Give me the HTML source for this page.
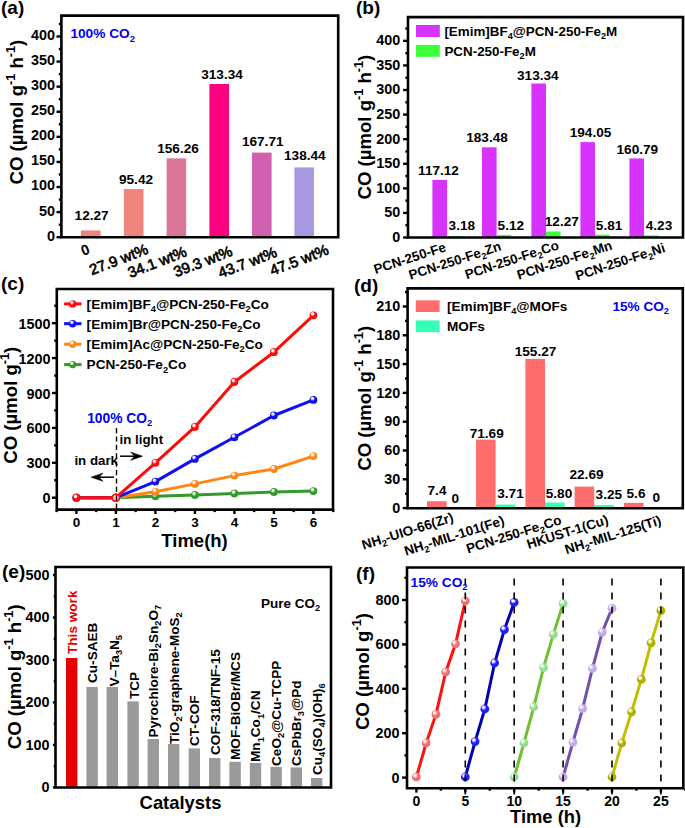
<!DOCTYPE html>
<html><head><meta charset="utf-8"><style>
html,body{margin:0;padding:0;background:#fff;}
svg{display:block;font-family:"Liberation Sans",sans-serif;font-weight:bold;}
</style></head><body>
<svg width="685" height="828" viewBox="0 0 685 828">
<defs><radialGradient id="g0" cx="0.4" cy="0.36" r="0.6" fx="0.38" fy="0.32"><stop offset="0" stop-color="#fff" stop-opacity="0.95"/><stop offset="0.22" stop-color="#fff" stop-opacity="0.75"/><stop offset="0.5" stop-color="#33992B"/><stop offset="1" stop-color="#33992B"/></radialGradient><radialGradient id="g1" cx="0.4" cy="0.36" r="0.6" fx="0.38" fy="0.32"><stop offset="0" stop-color="#fff" stop-opacity="0.95"/><stop offset="0.22" stop-color="#fff" stop-opacity="0.75"/><stop offset="0.5" stop-color="#FF8612"/><stop offset="1" stop-color="#FF8612"/></radialGradient><radialGradient id="g2" cx="0.4" cy="0.36" r="0.6" fx="0.38" fy="0.32"><stop offset="0" stop-color="#fff" stop-opacity="0.95"/><stop offset="0.22" stop-color="#fff" stop-opacity="0.75"/><stop offset="0.5" stop-color="#1010F0"/><stop offset="1" stop-color="#1010F0"/></radialGradient><radialGradient id="g3" cx="0.4" cy="0.36" r="0.6" fx="0.38" fy="0.32"><stop offset="0" stop-color="#fff" stop-opacity="0.95"/><stop offset="0.22" stop-color="#fff" stop-opacity="0.75"/><stop offset="0.5" stop-color="#FF0A0A"/><stop offset="1" stop-color="#FF0A0A"/></radialGradient><radialGradient id="g4" cx="0.4" cy="0.36" r="0.6" fx="0.38" fy="0.32"><stop offset="0" stop-color="#fff" stop-opacity="0.95"/><stop offset="0.22" stop-color="#fff" stop-opacity="0.75"/><stop offset="0.5" stop-color="#EE7070"/><stop offset="1" stop-color="#EE7070"/></radialGradient><radialGradient id="g5" cx="0.4" cy="0.36" r="0.6" fx="0.38" fy="0.32"><stop offset="0" stop-color="#fff" stop-opacity="0.95"/><stop offset="0.22" stop-color="#fff" stop-opacity="0.75"/><stop offset="0.5" stop-color="#2020FF"/><stop offset="1" stop-color="#2020FF"/></radialGradient><radialGradient id="g6" cx="0.4" cy="0.36" r="0.6" fx="0.38" fy="0.32"><stop offset="0" stop-color="#fff" stop-opacity="0.95"/><stop offset="0.22" stop-color="#fff" stop-opacity="0.75"/><stop offset="0.5" stop-color="#90E090"/><stop offset="1" stop-color="#90E090"/></radialGradient><radialGradient id="g7" cx="0.4" cy="0.36" r="0.6" fx="0.38" fy="0.32"><stop offset="0" stop-color="#fff" stop-opacity="0.95"/><stop offset="0.22" stop-color="#fff" stop-opacity="0.75"/><stop offset="0.5" stop-color="#C8A8E8"/><stop offset="1" stop-color="#C8A8E8"/></radialGradient><radialGradient id="g8" cx="0.4" cy="0.36" r="0.6" fx="0.38" fy="0.32"><stop offset="0" stop-color="#fff" stop-opacity="0.95"/><stop offset="0.22" stop-color="#fff" stop-opacity="0.75"/><stop offset="0.5" stop-color="#B0B000"/><stop offset="1" stop-color="#B0B000"/></radialGradient></defs>
<rect width="685" height="828" fill="#fff"/>
<text transform="translate(1,14)" font-size="19">(a)</text>
<rect x="81" y="230.4" width="19.6" height="6.8" fill="#F08580"/>
<rect x="123.9" y="189" width="19.6" height="48.2" fill="#F08580"/>
<rect x="166.6" y="158.4" width="19.6" height="78.8" fill="#DA7698"/>
<rect x="209.4" y="84" width="19.6" height="153.2" fill="#FF0080"/>
<rect x="252" y="152.6" width="19.6" height="84.6" fill="#D060B0"/>
<rect x="294.4" y="167.4" width="19.6" height="69.8" fill="#A898E0"/>
<path d="M61.4,237.2 L61.4,15.6 L338.2,15.6 L338.2,237.2 Z" fill="none" stroke="#000" stroke-width="2.6" stroke-linejoin="miter"/>
<line x1="56.5" y1="237.2" x2="61.4" y2="237.2" stroke="#000" stroke-width="2.4"/>
<text transform="translate(55,240.6)" font-size="14.4" text-anchor="end">0</text>
<line x1="56.5" y1="212.11" x2="61.4" y2="212.11" stroke="#000" stroke-width="2.4"/>
<text transform="translate(55,215.51)" font-size="14.4" text-anchor="end">50</text>
<line x1="56.5" y1="187.02" x2="61.4" y2="187.02" stroke="#000" stroke-width="2.4"/>
<text transform="translate(55,190.42)" font-size="14.4" text-anchor="end">100</text>
<line x1="56.5" y1="161.93" x2="61.4" y2="161.93" stroke="#000" stroke-width="2.4"/>
<text transform="translate(55,165.33)" font-size="14.4" text-anchor="end">150</text>
<line x1="56.5" y1="136.84" x2="61.4" y2="136.84" stroke="#000" stroke-width="2.4"/>
<text transform="translate(55,140.24)" font-size="14.4" text-anchor="end">200</text>
<line x1="56.5" y1="111.75" x2="61.4" y2="111.75" stroke="#000" stroke-width="2.4"/>
<text transform="translate(55,115.15)" font-size="14.4" text-anchor="end">250</text>
<line x1="56.5" y1="86.66" x2="61.4" y2="86.66" stroke="#000" stroke-width="2.4"/>
<text transform="translate(55,90.06)" font-size="14.4" text-anchor="end">300</text>
<line x1="56.5" y1="61.57" x2="61.4" y2="61.57" stroke="#000" stroke-width="2.4"/>
<text transform="translate(55,64.97)" font-size="14.4" text-anchor="end">350</text>
<line x1="56.5" y1="36.48" x2="61.4" y2="36.48" stroke="#000" stroke-width="2.4"/>
<text transform="translate(55,39.88)" font-size="14.4" text-anchor="end">400</text>
<line x1="58.8" y1="224.66" x2="61.4" y2="224.66" stroke="#000" stroke-width="2.4"/>
<line x1="58.8" y1="199.56" x2="61.4" y2="199.56" stroke="#000" stroke-width="2.4"/>
<line x1="58.8" y1="174.47" x2="61.4" y2="174.47" stroke="#000" stroke-width="2.4"/>
<line x1="58.8" y1="149.38" x2="61.4" y2="149.38" stroke="#000" stroke-width="2.4"/>
<line x1="58.8" y1="124.29" x2="61.4" y2="124.29" stroke="#000" stroke-width="2.4"/>
<line x1="58.8" y1="99.2" x2="61.4" y2="99.2" stroke="#000" stroke-width="2.4"/>
<line x1="58.8" y1="74.11" x2="61.4" y2="74.11" stroke="#000" stroke-width="2.4"/>
<line x1="58.8" y1="49.02" x2="61.4" y2="49.02" stroke="#000" stroke-width="2.4"/>
<line x1="58.8" y1="23.93" x2="61.4" y2="23.93" stroke="#000" stroke-width="2.4"/>
<text transform="translate(70.4,38.3)" font-size="13.7" fill="#0000F0">100% CO<tspan dy="3.29" font-size="9.32">2</tspan></text>
<text transform="translate(91.6,220)" font-size="13.6" text-anchor="middle">12.27</text>
<text transform="translate(136,184.3)" font-size="13.6" text-anchor="middle">95.42</text>
<text transform="translate(178,153)" font-size="13.6" text-anchor="middle">156.26</text>
<text transform="translate(222,79.4)" font-size="13.6" text-anchor="middle">313.34</text>
<text transform="translate(262.7,146.4)" font-size="13.6" text-anchor="middle">167.71</text>
<text transform="translate(304.8,160)" font-size="13.6" text-anchor="middle">138.44</text>
<text transform="translate(87,254.5) rotate(-21)" font-size="14.5" text-anchor="middle">0</text>
<text transform="translate(120.5,264.3) rotate(-21)" font-size="15" text-anchor="middle" font-weight="normal" stroke="#000" stroke-width="0.65">27.9 wt%</text>
<text transform="translate(159,266.9) rotate(-21)" font-size="15" text-anchor="middle" font-weight="normal" stroke="#000" stroke-width="0.65">34.1 wt%</text>
<text transform="translate(204.7,266.3) rotate(-21)" font-size="15" text-anchor="middle" font-weight="normal" stroke="#000" stroke-width="0.65">39.3 wt%</text>
<text transform="translate(249.2,267.3) rotate(-21)" font-size="15" text-anchor="middle" font-weight="normal" stroke="#000" stroke-width="0.65">43.7 wt%</text>
<text transform="translate(301,264.8) rotate(-21)" font-size="15" text-anchor="middle" font-weight="normal" stroke="#000" stroke-width="0.65">47.5 wt%</text>
<text transform="translate(22.6,184.5) rotate(-90)" font-size="18.6">CO (µmol g<tspan dy="-7.81" font-size="12.65">-1</tspan><tspan dy="7.81"> h</tspan><tspan dy="-7.81" font-size="12.65">-1</tspan><tspan dy="7.81">)</tspan></text>
<text transform="translate(356,14)" font-size="19">(b)</text>
<rect x="416" y="25" width="23.8" height="12" fill="#D832FF"/>
<rect x="416" y="44.9" width="23.8" height="11.9" fill="#3CFF3C"/>
<text transform="translate(444.4,35.6)" font-size="13.4">[Emim]BF<tspan dy="3.22" font-size="9.11">4</tspan><tspan dy="-3.22">@PCN-250-Fe</tspan><tspan dy="3.22" font-size="9.11">2</tspan><tspan dy="-3.22">M</tspan></text>
<text transform="translate(444.4,56)" font-size="13.4">PCN-250-Fe<tspan dy="3.22" font-size="9.11">2</tspan><tspan dy="-3.22">M</tspan></text>
<rect x="432.4" y="179.92" width="14.6" height="57.58" fill="#D832FF"/>
<rect x="447" y="235.94" width="14.6" height="1.56" fill="#3CFF3C"/>
<rect x="482" y="147.3" width="14.6" height="90.2" fill="#D832FF"/>
<rect x="496.6" y="234.98" width="14.6" height="2.52" fill="#3CFF3C"/>
<rect x="531.4" y="83.46" width="14.6" height="154.04" fill="#D832FF"/>
<rect x="546" y="231.47" width="14.6" height="6.03" fill="#3CFF3C"/>
<rect x="580.4" y="142.11" width="14.6" height="95.39" fill="#D832FF"/>
<rect x="595" y="234.64" width="14.6" height="2.86" fill="#3CFF3C"/>
<rect x="629.4" y="158.46" width="14.6" height="79.04" fill="#D832FF"/>
<rect x="644" y="235.42" width="14.6" height="2.08" fill="#3CFF3C"/>
<path d="M408,237.5 L408,17.1 L683,17.1 L683,237.5 Z" fill="none" stroke="#000" stroke-width="2.6" stroke-linejoin="miter"/>
<line x1="403.1" y1="237.5" x2="408" y2="237.5" stroke="#000" stroke-width="2.4"/>
<text transform="translate(400.2,241.9)" font-size="14.4" text-anchor="end">0</text>
<line x1="403.1" y1="212.92" x2="408" y2="212.92" stroke="#000" stroke-width="2.4"/>
<text transform="translate(400.2,217.32)" font-size="14.4" text-anchor="end">50</text>
<line x1="403.1" y1="188.34" x2="408" y2="188.34" stroke="#000" stroke-width="2.4"/>
<text transform="translate(400.2,192.74)" font-size="14.4" text-anchor="end">100</text>
<line x1="403.1" y1="163.76" x2="408" y2="163.76" stroke="#000" stroke-width="2.4"/>
<text transform="translate(400.2,168.16)" font-size="14.4" text-anchor="end">150</text>
<line x1="403.1" y1="139.18" x2="408" y2="139.18" stroke="#000" stroke-width="2.4"/>
<text transform="translate(400.2,143.58)" font-size="14.4" text-anchor="end">200</text>
<line x1="403.1" y1="114.6" x2="408" y2="114.6" stroke="#000" stroke-width="2.4"/>
<text transform="translate(400.2,119)" font-size="14.4" text-anchor="end">250</text>
<line x1="403.1" y1="90.02" x2="408" y2="90.02" stroke="#000" stroke-width="2.4"/>
<text transform="translate(400.2,94.42)" font-size="14.4" text-anchor="end">300</text>
<line x1="403.1" y1="65.44" x2="408" y2="65.44" stroke="#000" stroke-width="2.4"/>
<text transform="translate(400.2,69.84)" font-size="14.4" text-anchor="end">350</text>
<line x1="403.1" y1="40.86" x2="408" y2="40.86" stroke="#000" stroke-width="2.4"/>
<text transform="translate(400.2,45.26)" font-size="14.4" text-anchor="end">400</text>
<line x1="405.4" y1="225.21" x2="408" y2="225.21" stroke="#000" stroke-width="2.4"/>
<line x1="405.4" y1="200.63" x2="408" y2="200.63" stroke="#000" stroke-width="2.4"/>
<line x1="405.4" y1="176.05" x2="408" y2="176.05" stroke="#000" stroke-width="2.4"/>
<line x1="405.4" y1="151.47" x2="408" y2="151.47" stroke="#000" stroke-width="2.4"/>
<line x1="405.4" y1="126.89" x2="408" y2="126.89" stroke="#000" stroke-width="2.4"/>
<line x1="405.4" y1="102.31" x2="408" y2="102.31" stroke="#000" stroke-width="2.4"/>
<line x1="405.4" y1="77.73" x2="408" y2="77.73" stroke="#000" stroke-width="2.4"/>
<line x1="405.4" y1="53.15" x2="408" y2="53.15" stroke="#000" stroke-width="2.4"/>
<line x1="405.4" y1="28.57" x2="408" y2="28.57" stroke="#000" stroke-width="2.4"/>
<text transform="translate(438.5,174.6)" font-size="13.6" text-anchor="middle">117.12</text>
<text transform="translate(487,141.6)" font-size="13.6" text-anchor="middle">183.48</text>
<text transform="translate(537.8,80)" font-size="13.6" text-anchor="middle">313.34</text>
<text transform="translate(590.5,137.4)" font-size="13.6" text-anchor="middle">194.05</text>
<text transform="translate(637.3,153.6)" font-size="13.6" text-anchor="middle">160.79</text>
<text transform="translate(461.8,230.4)" font-size="13.6" text-anchor="middle">3.18</text>
<text transform="translate(510.8,230)" font-size="13.6" text-anchor="middle">5.12</text>
<text transform="translate(561.8,225.6)" font-size="13.6" text-anchor="middle">12.27</text>
<text transform="translate(609.1,230)" font-size="13.6" text-anchor="middle">5.81</text>
<text transform="translate(659,230)" font-size="13.6" text-anchor="middle">4.23</text>
<text transform="translate(375.5,274) rotate(-18)" font-size="13.35">PCN-250-Fe</text>
<text transform="translate(410.5,279.8) rotate(-18)" font-size="13.35">PCN-250-Fe<tspan dy="3.2" font-size="9.08">2</tspan><tspan dy="-3.2">Zn</tspan></text>
<text transform="translate(466.7,279.2) rotate(-18)" font-size="13.35">PCN-250-Fe<tspan dy="3.2" font-size="9.08">2</tspan><tspan dy="-3.2">Co</tspan></text>
<text transform="translate(518.7,279.8) rotate(-18)" font-size="13.35">PCN-250-Fe<tspan dy="3.2" font-size="9.08">2</tspan><tspan dy="-3.2">Mn</tspan></text>
<text transform="translate(577.2,280.4) rotate(-18)" font-size="13.35">PCN-250-Fe<tspan dy="3.2" font-size="9.08">2</tspan><tspan dy="-3.2">Ni</tspan></text>
<text transform="translate(370.5,199.5) rotate(-90)" font-size="18.6">CO (µmol g<tspan dy="-7.81" font-size="12.65">-1</tspan><tspan dy="7.81"> h</tspan><tspan dy="-7.81" font-size="12.65">-1</tspan><tspan dy="7.81">)</tspan></text>
<text transform="translate(1,290.3)" font-size="19">(c)</text>
<polyline points="76.4,497.7 115.9,497.7 155.4,496.3 194.9,495 234.4,493.5 273.9,492 313.4,491.1" fill="none" stroke="#33992B" stroke-width="3" stroke-linejoin="round"/>
<polyline points="76.4,497.7 115.9,497.7 155.4,491.8 194.9,483.9 234.4,475.6 273.9,469 313.4,456.1" fill="none" stroke="#FF8612" stroke-width="3" stroke-linejoin="round"/>
<polyline points="76.4,497.7 115.9,497.7 155.4,481.6 194.9,458.9 234.4,437.3 273.9,415.5 313.4,399.9" fill="none" stroke="#1010F0" stroke-width="3" stroke-linejoin="round"/>
<polyline points="76.4,497.7 115.9,497.7 155.4,462.8 194.9,426.9 234.4,382 273.9,352.2 313.4,315.3" fill="none" stroke="#FF0A0A" stroke-width="3" stroke-linejoin="round"/>
<circle cx="76.4" cy="497.7" r="3.9" fill="url(#g0)"/>
<circle cx="115.9" cy="497.7" r="3.9" fill="url(#g0)"/>
<circle cx="155.4" cy="496.3" r="3.9" fill="url(#g0)"/>
<circle cx="194.9" cy="495" r="3.9" fill="url(#g0)"/>
<circle cx="234.4" cy="493.5" r="3.9" fill="url(#g0)"/>
<circle cx="273.9" cy="492" r="3.9" fill="url(#g0)"/>
<circle cx="313.4" cy="491.1" r="3.9" fill="url(#g0)"/>
<circle cx="76.4" cy="497.7" r="3.9" fill="url(#g1)"/>
<circle cx="115.9" cy="497.7" r="3.9" fill="url(#g1)"/>
<circle cx="155.4" cy="491.8" r="3.9" fill="url(#g1)"/>
<circle cx="194.9" cy="483.9" r="3.9" fill="url(#g1)"/>
<circle cx="234.4" cy="475.6" r="3.9" fill="url(#g1)"/>
<circle cx="273.9" cy="469" r="3.9" fill="url(#g1)"/>
<circle cx="313.4" cy="456.1" r="3.9" fill="url(#g1)"/>
<circle cx="76.4" cy="497.7" r="3.9" fill="url(#g2)"/>
<circle cx="115.9" cy="497.7" r="3.9" fill="url(#g2)"/>
<circle cx="155.4" cy="481.6" r="3.9" fill="url(#g2)"/>
<circle cx="194.9" cy="458.9" r="3.9" fill="url(#g2)"/>
<circle cx="234.4" cy="437.3" r="3.9" fill="url(#g2)"/>
<circle cx="273.9" cy="415.5" r="3.9" fill="url(#g2)"/>
<circle cx="313.4" cy="399.9" r="3.9" fill="url(#g2)"/>
<circle cx="76.4" cy="497.7" r="3.9" fill="url(#g3)"/>
<circle cx="115.9" cy="497.7" r="3.9" fill="url(#g3)"/>
<circle cx="155.4" cy="462.8" r="3.9" fill="url(#g3)"/>
<circle cx="194.9" cy="426.9" r="3.9" fill="url(#g3)"/>
<circle cx="234.4" cy="382" r="3.9" fill="url(#g3)"/>
<circle cx="273.9" cy="352.2" r="3.9" fill="url(#g3)"/>
<circle cx="313.4" cy="315.3" r="3.9" fill="url(#g3)"/>
<circle cx="115.9" cy="497.7" r="3.5" fill="#ffd0d0" stroke="#FF0A0A" stroke-width="1.5"/>
<line x1="116.5" y1="428" x2="116.5" y2="509" stroke="#000" stroke-width="1.4" stroke-dasharray="5.2,3.2"/>
<path d="M56.8,509.6 L56.8,289 L333,289 L333,509.6 Z" fill="none" stroke="#000" stroke-width="2.6" stroke-linejoin="miter"/>
<line x1="51.9" y1="497.7" x2="56.8" y2="497.7" stroke="#000" stroke-width="2.4"/>
<text transform="translate(50.5,503.2)" font-size="14.4" text-anchor="end">0</text>
<line x1="51.9" y1="462.8" x2="56.8" y2="462.8" stroke="#000" stroke-width="2.4"/>
<text transform="translate(50.5,468.3)" font-size="14.4" text-anchor="end">300</text>
<line x1="51.9" y1="427.9" x2="56.8" y2="427.9" stroke="#000" stroke-width="2.4"/>
<text transform="translate(50.5,433.4)" font-size="14.4" text-anchor="end">600</text>
<line x1="51.9" y1="393" x2="56.8" y2="393" stroke="#000" stroke-width="2.4"/>
<text transform="translate(50.5,398.5)" font-size="14.4" text-anchor="end">900</text>
<line x1="51.9" y1="358.1" x2="56.8" y2="358.1" stroke="#000" stroke-width="2.4"/>
<text transform="translate(50.5,363.6)" font-size="14.4" text-anchor="end">1200</text>
<line x1="51.9" y1="323.2" x2="56.8" y2="323.2" stroke="#000" stroke-width="2.4"/>
<text transform="translate(50.5,328.7)" font-size="14.4" text-anchor="end">1500</text>
<line x1="54.2" y1="480.25" x2="56.8" y2="480.25" stroke="#000" stroke-width="2.4"/>
<line x1="54.2" y1="445.35" x2="56.8" y2="445.35" stroke="#000" stroke-width="2.4"/>
<line x1="54.2" y1="410.45" x2="56.8" y2="410.45" stroke="#000" stroke-width="2.4"/>
<line x1="54.2" y1="375.55" x2="56.8" y2="375.55" stroke="#000" stroke-width="2.4"/>
<line x1="54.2" y1="340.65" x2="56.8" y2="340.65" stroke="#000" stroke-width="2.4"/>
<line x1="54.2" y1="305.75" x2="56.8" y2="305.75" stroke="#000" stroke-width="2.4"/>
<line x1="76.4" y1="509.6" x2="76.4" y2="514" stroke="#000" stroke-width="2.4"/>
<text transform="translate(76.4,526.7)" font-size="13.5" text-anchor="middle">0</text>
<line x1="115.9" y1="509.6" x2="115.9" y2="514" stroke="#000" stroke-width="2.4"/>
<text transform="translate(115.9,526.7)" font-size="13.5" text-anchor="middle">1</text>
<line x1="155.4" y1="509.6" x2="155.4" y2="514" stroke="#000" stroke-width="2.4"/>
<text transform="translate(155.4,526.7)" font-size="13.5" text-anchor="middle">2</text>
<line x1="194.9" y1="509.6" x2="194.9" y2="514" stroke="#000" stroke-width="2.4"/>
<text transform="translate(194.9,526.7)" font-size="13.5" text-anchor="middle">3</text>
<line x1="234.4" y1="509.6" x2="234.4" y2="514" stroke="#000" stroke-width="2.4"/>
<text transform="translate(234.4,526.7)" font-size="13.5" text-anchor="middle">4</text>
<line x1="273.9" y1="509.6" x2="273.9" y2="514" stroke="#000" stroke-width="2.4"/>
<text transform="translate(273.9,526.7)" font-size="13.5" text-anchor="middle">5</text>
<line x1="313.4" y1="509.6" x2="313.4" y2="514" stroke="#000" stroke-width="2.4"/>
<text transform="translate(313.4,526.7)" font-size="13.5" text-anchor="middle">6</text>
<line x1="56.65" y1="509.6" x2="56.65" y2="512.1" stroke="#000" stroke-width="2.4"/>
<line x1="96.15" y1="509.6" x2="96.15" y2="512.1" stroke="#000" stroke-width="2.4"/>
<line x1="135.65" y1="509.6" x2="135.65" y2="512.1" stroke="#000" stroke-width="2.4"/>
<line x1="175.15" y1="509.6" x2="175.15" y2="512.1" stroke="#000" stroke-width="2.4"/>
<line x1="214.65" y1="509.6" x2="214.65" y2="512.1" stroke="#000" stroke-width="2.4"/>
<line x1="254.15" y1="509.6" x2="254.15" y2="512.1" stroke="#000" stroke-width="2.4"/>
<line x1="293.65" y1="509.6" x2="293.65" y2="512.1" stroke="#000" stroke-width="2.4"/>
<line x1="333.15" y1="509.6" x2="333.15" y2="512.1" stroke="#000" stroke-width="2.4"/>
<line x1="64.1" y1="303.9" x2="81.5" y2="303.9" stroke="#FF0A0A" stroke-width="3"/>
<circle cx="72.7" cy="303.9" r="3.7" fill="url(#g3)"/>
<text transform="translate(86.6,308.7)" font-size="13.6">[Emim]BF<tspan dy="3.26" font-size="9.25">4</tspan><tspan dy="-3.26">@PCN-250-Fe</tspan><tspan dy="3.26" font-size="9.25">2</tspan><tspan dy="-3.26">Co</tspan></text>
<line x1="64.1" y1="323.7" x2="81.5" y2="323.7" stroke="#1010F0" stroke-width="3"/>
<circle cx="72.7" cy="323.7" r="3.7" fill="url(#g2)"/>
<text transform="translate(86.6,328.5)" font-size="13.6">[Emim]Br@PCN-250-Fe<tspan dy="3.26" font-size="9.25">2</tspan><tspan dy="-3.26">Co</tspan></text>
<line x1="64.1" y1="344.2" x2="81.5" y2="344.2" stroke="#FF8612" stroke-width="3"/>
<circle cx="72.7" cy="344.2" r="3.7" fill="url(#g1)"/>
<text transform="translate(86.6,349)" font-size="13.6">[Emim]Ac@PCN-250-Fe<tspan dy="3.26" font-size="9.25">2</tspan><tspan dy="-3.26">Co</tspan></text>
<line x1="64.1" y1="364.6" x2="81.5" y2="364.6" stroke="#33992B" stroke-width="3"/>
<circle cx="72.7" cy="364.6" r="3.7" fill="url(#g0)"/>
<text transform="translate(86.6,369.4)" font-size="13.6">PCN-250-Fe<tspan dy="3.26" font-size="9.25">2</tspan><tspan dy="-3.26">Co</tspan></text>
<text transform="translate(87.2,422.6)" font-size="13.8" fill="#0000F0">100% CO<tspan dy="3.31" font-size="9.38">2</tspan></text>
<text transform="translate(119.6,444.4)" font-size="13.3">in light</text>
<text transform="translate(74.4,465.4)" font-size="13.3">in dark</text>
<line x1="120.1" y1="456.2" x2="137" y2="456.2" stroke="#000" stroke-width="1.5"/>
<path d="M142.6,456.2 L130.6,452.1 L134.6,456.2 L130.6,460.3 Z" fill="#000" stroke="#000" stroke-width="0.5" stroke-linejoin="round"/>
<line x1="96" y1="477.2" x2="114" y2="477.2" stroke="#000" stroke-width="1.5"/>
<path d="M91,477.2 L103,473.1 L99,477.2 L103,481.3 Z" fill="#000" stroke="#000" stroke-width="0.5" stroke-linejoin="round"/>
<text transform="translate(161.3,546.7)" font-size="18.5">Time(h)</text>
<text transform="translate(17,463.7) rotate(-90)" font-size="18.6">CO (µmol g<tspan dy="-7.81" font-size="12.65">-1</tspan><tspan dy="7.81">)</tspan></text>
<text transform="translate(354,291.5)" font-size="19">(d)</text>
<rect x="415.8" y="300.3" width="23.8" height="11.7" fill="#FF6D6D"/>
<rect x="415.8" y="320.4" width="23.8" height="11.7" fill="#36FFB8"/>
<text transform="translate(447,311)" font-size="13.6">[Emim]BF<tspan dy="3.26" font-size="9.25">4</tspan><tspan dy="-3.26">@MOFs</tspan></text>
<text transform="translate(447,331)" font-size="13.6">MOFs</text>
<rect x="427" y="501.2" width="19.6" height="6.9" fill="#FF6D6D"/>
<rect x="476" y="439.6" width="19.6" height="68.5" fill="#FF6D6D"/>
<rect x="495.6" y="504.54" width="19.6" height="3.56" fill="#36FFB8"/>
<rect x="525.4" y="358.9" width="19.6" height="149.2" fill="#FF6D6D"/>
<rect x="545" y="502.53" width="19.6" height="5.57" fill="#36FFB8"/>
<rect x="574.6" y="486.6" width="19.6" height="21.5" fill="#FF6D6D"/>
<rect x="594.2" y="504.98" width="19.6" height="3.12" fill="#36FFB8"/>
<rect x="624" y="502.9" width="19.6" height="5.2" fill="#FF6D6D"/>
<path d="M407.6,508.3 L407.6,288.4 L682.8,288.4 L682.8,508.3 Z" fill="none" stroke="#000" stroke-width="2.6" stroke-linejoin="miter"/>
<line x1="402.7" y1="508.1" x2="407.6" y2="508.1" stroke="#000" stroke-width="2.4"/>
<text transform="translate(400.2,512.8)" font-size="14.4" text-anchor="end">0</text>
<line x1="402.7" y1="479.3" x2="407.6" y2="479.3" stroke="#000" stroke-width="2.4"/>
<text transform="translate(400.2,484)" font-size="14.4" text-anchor="end">30</text>
<line x1="402.7" y1="450.5" x2="407.6" y2="450.5" stroke="#000" stroke-width="2.4"/>
<text transform="translate(400.2,455.2)" font-size="14.4" text-anchor="end">60</text>
<line x1="402.7" y1="421.7" x2="407.6" y2="421.7" stroke="#000" stroke-width="2.4"/>
<text transform="translate(400.2,426.4)" font-size="14.4" text-anchor="end">90</text>
<line x1="402.7" y1="392.9" x2="407.6" y2="392.9" stroke="#000" stroke-width="2.4"/>
<text transform="translate(400.2,397.6)" font-size="14.4" text-anchor="end">120</text>
<line x1="402.7" y1="364.1" x2="407.6" y2="364.1" stroke="#000" stroke-width="2.4"/>
<text transform="translate(400.2,368.8)" font-size="14.4" text-anchor="end">150</text>
<line x1="402.7" y1="335.3" x2="407.6" y2="335.3" stroke="#000" stroke-width="2.4"/>
<text transform="translate(400.2,340)" font-size="14.4" text-anchor="end">180</text>
<line x1="402.7" y1="306.5" x2="407.6" y2="306.5" stroke="#000" stroke-width="2.4"/>
<text transform="translate(400.2,311.2)" font-size="14.4" text-anchor="end">210</text>
<line x1="405" y1="493.7" x2="407.6" y2="493.7" stroke="#000" stroke-width="2.4"/>
<line x1="405" y1="464.9" x2="407.6" y2="464.9" stroke="#000" stroke-width="2.4"/>
<line x1="405" y1="436.1" x2="407.6" y2="436.1" stroke="#000" stroke-width="2.4"/>
<line x1="405" y1="407.3" x2="407.6" y2="407.3" stroke="#000" stroke-width="2.4"/>
<line x1="405" y1="378.5" x2="407.6" y2="378.5" stroke="#000" stroke-width="2.4"/>
<line x1="405" y1="349.7" x2="407.6" y2="349.7" stroke="#000" stroke-width="2.4"/>
<line x1="405" y1="320.9" x2="407.6" y2="320.9" stroke="#000" stroke-width="2.4"/>
<line x1="405" y1="292.1" x2="407.6" y2="292.1" stroke="#000" stroke-width="2.4"/>
<text transform="translate(612.4,310.6)" font-size="13.6" fill="#0000F0">15% CO<tspan dy="3.26" font-size="9.25">2</tspan></text>
<text transform="translate(437,495)" font-size="13.6" text-anchor="middle">7.4</text>
<text transform="translate(455.3,503)" font-size="13.6" text-anchor="middle">0</text>
<text transform="translate(486.7,437.6)" font-size="13.6" text-anchor="middle">71.69</text>
<text transform="translate(510.5,498)" font-size="13.6" text-anchor="middle">3.71</text>
<text transform="translate(535.5,355.6)" font-size="13.6" text-anchor="middle">155.27</text>
<text transform="translate(559,498)" font-size="13.6" text-anchor="middle">5.80</text>
<text transform="translate(586.5,479.4)" font-size="13.6" text-anchor="middle">22.69</text>
<text transform="translate(608.8,499)" font-size="13.6" text-anchor="middle">3.25</text>
<text transform="translate(636,498)" font-size="13.6" text-anchor="middle">5.6</text>
<text transform="translate(656.2,502)" font-size="13.6" text-anchor="middle">0</text>
<text transform="translate(363.6,549.8) rotate(-17.5)" font-size="13.5">NH<tspan dy="3.24" font-size="9.18">2</tspan><tspan dy="-3.24">-UIO-66(Zr)</tspan></text>
<text transform="translate(405.9,555.7) rotate(-17.5)" font-size="13.5">NH<tspan dy="3.24" font-size="9.18">2</tspan><tspan dy="-3.24">-MIL-101(Fe)</tspan></text>
<text transform="translate(468,553.5) rotate(-17.5)" font-size="13.5">PCN-250-Fe<tspan dy="3.24" font-size="9.18">2</tspan><tspan dy="-3.24">Co</tspan></text>
<text transform="translate(528.4,549.1) rotate(-17.5)" font-size="13.5">HKUST-1(Cu)</text>
<text transform="translate(566.6,554.3) rotate(-17.5)" font-size="13.5">NH<tspan dy="3.24" font-size="9.18">2</tspan><tspan dy="-3.24">-MIL-125(Ti)</tspan></text>
<text transform="translate(370.8,470.7) rotate(-90)" font-size="18.6">CO (µmol g<tspan dy="-7.81" font-size="12.65">-1</tspan><tspan dy="7.81"> h</tspan><tspan dy="-7.81" font-size="12.65">-1</tspan><tspan dy="7.81">)</tspan></text>
<text transform="translate(2,577.7)" font-size="19">(e)</text>
<rect x="66" y="658" width="11.4" height="129.4" fill="#E60000"/>
<rect x="86.4" y="687" width="11.4" height="100.4" fill="#9A9A9A"/>
<rect x="106.6" y="687" width="11.4" height="100.4" fill="#9A9A9A"/>
<rect x="127.4" y="701.4" width="11.4" height="86" fill="#9A9A9A"/>
<rect x="147.6" y="739" width="11.4" height="48.4" fill="#9A9A9A"/>
<rect x="168" y="744" width="11.4" height="43.4" fill="#9A9A9A"/>
<rect x="188.6" y="748.4" width="11.4" height="39" fill="#9A9A9A"/>
<rect x="209" y="758" width="11.4" height="29.4" fill="#9A9A9A"/>
<rect x="229.4" y="761.8" width="11.4" height="25.6" fill="#9A9A9A"/>
<rect x="249.8" y="763" width="11.4" height="24.4" fill="#9A9A9A"/>
<rect x="270.4" y="767" width="11.4" height="20.4" fill="#9A9A9A"/>
<rect x="290.6" y="767.4" width="11.4" height="20" fill="#9A9A9A"/>
<rect x="311" y="778" width="11.4" height="9.4" fill="#9A9A9A"/>
<path d="M55.5,787.5 L55.5,567 L331,567 L331,787.5 Z" fill="none" stroke="#000" stroke-width="2.6" stroke-linejoin="miter"/>
<line x1="52.9" y1="787.4" x2="55.5" y2="787.4" stroke="#000" stroke-width="2.4"/>
<text transform="translate(49.5,792.1)" font-size="14.4" text-anchor="end">0</text>
<line x1="52.9" y1="744.92" x2="55.5" y2="744.92" stroke="#000" stroke-width="2.4"/>
<text transform="translate(49.5,749.62)" font-size="14.4" text-anchor="end">100</text>
<line x1="52.9" y1="702.44" x2="55.5" y2="702.44" stroke="#000" stroke-width="2.4"/>
<text transform="translate(49.5,707.14)" font-size="14.4" text-anchor="end">200</text>
<line x1="52.9" y1="659.96" x2="55.5" y2="659.96" stroke="#000" stroke-width="2.4"/>
<text transform="translate(49.5,664.66)" font-size="14.4" text-anchor="end">300</text>
<line x1="52.9" y1="617.48" x2="55.5" y2="617.48" stroke="#000" stroke-width="2.4"/>
<text transform="translate(49.5,622.18)" font-size="14.4" text-anchor="end">400</text>
<line x1="52.9" y1="575" x2="55.5" y2="575" stroke="#000" stroke-width="2.4"/>
<text transform="translate(49.5,579.7)" font-size="14.4" text-anchor="end">500</text>
<line x1="53.7" y1="766.16" x2="55.5" y2="766.16" stroke="#000" stroke-width="2.4"/>
<line x1="53.7" y1="723.68" x2="55.5" y2="723.68" stroke="#000" stroke-width="2.4"/>
<line x1="53.7" y1="681.2" x2="55.5" y2="681.2" stroke="#000" stroke-width="2.4"/>
<line x1="53.7" y1="638.72" x2="55.5" y2="638.72" stroke="#000" stroke-width="2.4"/>
<line x1="53.7" y1="596.24" x2="55.5" y2="596.24" stroke="#000" stroke-width="2.4"/>
<text transform="translate(76.5,654) rotate(-90)" font-size="13.6" fill="#E60000">This work</text>
<text transform="translate(96.9,683) rotate(-90)" font-size="13.6">Cu-SAEB</text>
<text transform="translate(118.6,686.6) rotate(-90)" font-size="13.6">V–Ta<tspan dy="3.26" font-size="9.25">3</tspan><tspan dy="-3.26">N</tspan><tspan dy="3.26" font-size="9.25">5</tspan></text>
<text transform="translate(139.1,699) rotate(-90)" font-size="13.6">TCP</text>
<text transform="translate(158.1,737.4) rotate(-90)" font-size="13.6">Pyrochlore-Bi<tspan dy="3.26" font-size="9.25">2</tspan><tspan dy="-3.26">Sn</tspan><tspan dy="3.26" font-size="9.25">2</tspan><tspan dy="-3.26">O</tspan><tspan dy="3.26" font-size="9.25">7</tspan></text>
<text transform="translate(178.5,744) rotate(-90)" font-size="13.6">TiO<tspan dy="3.26" font-size="9.25">2</tspan><tspan dy="-3.26">-graphene-MoS</tspan><tspan dy="3.26" font-size="9.25">2</tspan></text>
<text transform="translate(199.1,746) rotate(-90)" font-size="13.6">CT-COF</text>
<text transform="translate(219.5,755) rotate(-90)" font-size="13.6">COF-318/TNF-15</text>
<text transform="translate(239.9,760) rotate(-90)" font-size="13.6">MOF-BiOBr/MCS</text>
<text transform="translate(260.3,762) rotate(-90)" font-size="13.6">Mn<tspan dy="3.26" font-size="9.25">1</tspan><tspan dy="-3.26">Co</tspan><tspan dy="3.26" font-size="9.25">1</tspan><tspan dy="-3.26">/CN</tspan></text>
<text transform="translate(280.9,766) rotate(-90)" font-size="13.6">CeO<tspan dy="3.26" font-size="9.25">2</tspan><tspan dy="-3.26">@Cu-TCPP</tspan></text>
<text transform="translate(301.1,766) rotate(-90)" font-size="13.6">CsPbBr<tspan dy="3.26" font-size="9.25">3</tspan><tspan dy="-3.26">@Pd</tspan></text>
<text transform="translate(321.5,775) rotate(-90)" font-size="13.6">Cu<tspan dy="3.26" font-size="9.25">4</tspan><tspan dy="-3.26">(SO</tspan><tspan dy="3.26" font-size="9.25">4</tspan><tspan dy="-3.26">)(OH)</tspan><tspan dy="3.26" font-size="9.25">6</tspan></text>
<text transform="translate(261,607.6)" font-size="13.5">Pure CO<tspan dy="3.24" font-size="9.18">2</tspan></text>
<text transform="translate(139.6,808.6)" font-size="18.4">Catalysts</text>
<text transform="translate(20.8,749.2) rotate(-90)" font-size="18.6">CO (µmol g<tspan dy="-7.81" font-size="12.65">-1</tspan><tspan dy="7.81"> h</tspan><tspan dy="-7.81" font-size="12.65">-1</tspan><tspan dy="7.81">)</tspan></text>
<text transform="translate(356,580.1)" font-size="19">(f)</text>
<polyline points="416.4,777 426.18,743 435.96,714.4 445.74,672 455.52,644 465.3,601" fill="none" stroke="#FF1010" stroke-width="3"/>
<circle cx="416.4" cy="777" r="4.4" fill="url(#g4)"/>
<circle cx="426.18" cy="743" r="4.4" fill="url(#g4)"/>
<circle cx="435.96" cy="714.4" r="4.4" fill="url(#g4)"/>
<circle cx="445.74" cy="672" r="4.4" fill="url(#g4)"/>
<circle cx="455.52" cy="644" r="4.4" fill="url(#g4)"/>
<circle cx="465.3" cy="601" r="4.4" fill="url(#g4)"/>
<polyline points="465.3,777 475.08,741.6 484.86,709 494.64,663 504.42,629.6 514.2,602.4" fill="none" stroke="#0000B4" stroke-width="3"/>
<circle cx="465.3" cy="777" r="4.4" fill="url(#g5)"/>
<circle cx="475.08" cy="741.6" r="4.4" fill="url(#g5)"/>
<circle cx="484.86" cy="709" r="4.4" fill="url(#g5)"/>
<circle cx="494.64" cy="663" r="4.4" fill="url(#g5)"/>
<circle cx="504.42" cy="629.6" r="4.4" fill="url(#g5)"/>
<circle cx="514.2" cy="602.4" r="4.4" fill="url(#g5)"/>
<polyline points="514.2,777 523.98,743 533.76,707 543.54,667.6 553.32,634.4 563.1,603.6" fill="none" stroke="#70C030" stroke-width="3"/>
<circle cx="514.2" cy="777" r="4.4" fill="url(#g6)"/>
<circle cx="523.98" cy="743" r="4.4" fill="url(#g6)"/>
<circle cx="533.76" cy="707" r="4.4" fill="url(#g6)"/>
<circle cx="543.54" cy="667.6" r="4.4" fill="url(#g6)"/>
<circle cx="553.32" cy="634.4" r="4.4" fill="url(#g6)"/>
<circle cx="563.1" cy="603.6" r="4.4" fill="url(#g6)"/>
<polyline points="563.1,777 572.88,742.4 582.66,708.6 592.44,668.5 602.22,632.3 612,608.2" fill="none" stroke="#7050B0" stroke-width="3"/>
<circle cx="563.1" cy="777" r="4.4" fill="url(#g7)"/>
<circle cx="572.88" cy="742.4" r="4.4" fill="url(#g7)"/>
<circle cx="582.66" cy="708.6" r="4.4" fill="url(#g7)"/>
<circle cx="592.44" cy="668.5" r="4.4" fill="url(#g7)"/>
<circle cx="602.22" cy="632.3" r="4.4" fill="url(#g7)"/>
<circle cx="612" cy="608.2" r="4.4" fill="url(#g7)"/>
<polyline points="612,777 621.78,743 631.56,712 641.34,679.4 651.12,642.9 660.9,610.6" fill="none" stroke="#C0C000" stroke-width="3"/>
<circle cx="612" cy="777" r="4.4" fill="url(#g8)"/>
<circle cx="621.78" cy="743" r="4.4" fill="url(#g8)"/>
<circle cx="631.56" cy="712" r="4.4" fill="url(#g8)"/>
<circle cx="641.34" cy="679.4" r="4.4" fill="url(#g8)"/>
<circle cx="651.12" cy="642.9" r="4.4" fill="url(#g8)"/>
<circle cx="660.9" cy="610.6" r="4.4" fill="url(#g8)"/>
<line x1="465.3" y1="578.6" x2="465.3" y2="794.5" stroke="#000" stroke-width="1.6" stroke-dasharray="7,7"/>
<line x1="514.2" y1="578.6" x2="514.2" y2="794.5" stroke="#000" stroke-width="1.6" stroke-dasharray="7,7"/>
<line x1="563.1" y1="578.6" x2="563.1" y2="794.5" stroke="#000" stroke-width="1.6" stroke-dasharray="7,7"/>
<line x1="612" y1="578.6" x2="612" y2="794.5" stroke="#000" stroke-width="1.6" stroke-dasharray="7,7"/>
<line x1="660.9" y1="578.6" x2="660.9" y2="794.5" stroke="#000" stroke-width="1.6" stroke-dasharray="7,7"/>
<path d="M407,788.2 L407,567.5 L683.3,567.5 L683.3,788.2 Z" fill="none" stroke="#000" stroke-width="2.6" stroke-linejoin="miter"/>
<line x1="402.1" y1="777.6" x2="407" y2="777.6" stroke="#000" stroke-width="2.4"/>
<text transform="translate(399.6,782.5)" font-size="14.4" text-anchor="end">0</text>
<line x1="402.1" y1="733.2" x2="407" y2="733.2" stroke="#000" stroke-width="2.4"/>
<text transform="translate(399.6,738.1)" font-size="14.4" text-anchor="end">200</text>
<line x1="402.1" y1="688.8" x2="407" y2="688.8" stroke="#000" stroke-width="2.4"/>
<text transform="translate(399.6,693.7)" font-size="14.4" text-anchor="end">400</text>
<line x1="402.1" y1="644.4" x2="407" y2="644.4" stroke="#000" stroke-width="2.4"/>
<text transform="translate(399.6,649.3)" font-size="14.4" text-anchor="end">600</text>
<line x1="402.1" y1="600" x2="407" y2="600" stroke="#000" stroke-width="2.4"/>
<text transform="translate(399.6,604.9)" font-size="14.4" text-anchor="end">800</text>
<line x1="404.4" y1="755.4" x2="407" y2="755.4" stroke="#000" stroke-width="2.4"/>
<line x1="404.4" y1="711" x2="407" y2="711" stroke="#000" stroke-width="2.4"/>
<line x1="404.4" y1="666.6" x2="407" y2="666.6" stroke="#000" stroke-width="2.4"/>
<line x1="404.4" y1="622.2" x2="407" y2="622.2" stroke="#000" stroke-width="2.4"/>
<line x1="404.4" y1="577.8" x2="407" y2="577.8" stroke="#000" stroke-width="2.4"/>
<line x1="416.4" y1="788.2" x2="416.4" y2="792.6" stroke="#000" stroke-width="2.4"/>
<text transform="translate(416.4,806)" font-size="14" text-anchor="middle">0</text>
<line x1="465.3" y1="788.2" x2="465.3" y2="792.6" stroke="#000" stroke-width="2.4"/>
<text transform="translate(465.3,806)" font-size="14" text-anchor="middle">5</text>
<line x1="514.2" y1="788.2" x2="514.2" y2="792.6" stroke="#000" stroke-width="2.4"/>
<text transform="translate(514.2,806)" font-size="14" text-anchor="middle">10</text>
<line x1="563.1" y1="788.2" x2="563.1" y2="792.6" stroke="#000" stroke-width="2.4"/>
<text transform="translate(563.1,806)" font-size="14" text-anchor="middle">15</text>
<line x1="612" y1="788.2" x2="612" y2="792.6" stroke="#000" stroke-width="2.4"/>
<text transform="translate(612,806)" font-size="14" text-anchor="middle">20</text>
<line x1="660.9" y1="788.2" x2="660.9" y2="792.6" stroke="#000" stroke-width="2.4"/>
<text transform="translate(660.9,806)" font-size="14" text-anchor="middle">25</text>
<line x1="440.85" y1="788.2" x2="440.85" y2="790.7" stroke="#000" stroke-width="2.4"/>
<line x1="489.75" y1="788.2" x2="489.75" y2="790.7" stroke="#000" stroke-width="2.4"/>
<line x1="538.65" y1="788.2" x2="538.65" y2="790.7" stroke="#000" stroke-width="2.4"/>
<line x1="587.55" y1="788.2" x2="587.55" y2="790.7" stroke="#000" stroke-width="2.4"/>
<line x1="636.45" y1="788.2" x2="636.45" y2="790.7" stroke="#000" stroke-width="2.4"/>
<line x1="685.35" y1="788.2" x2="685.35" y2="790.7" stroke="#000" stroke-width="2.4"/>
<text transform="translate(410.6,587.2)" font-size="13.7" fill="#0000F0">15% CO<tspan dy="3.29" font-size="9.32">2</tspan></text>
<text transform="translate(510,822.5)" font-size="18.4">Time (h)</text>
<text transform="translate(368.8,730.1) rotate(-90)" font-size="18.6">CO (µmol g<tspan dy="-7.81" font-size="12.65">-1</tspan><tspan dy="7.81">)</tspan></text>
</svg></body></html>
